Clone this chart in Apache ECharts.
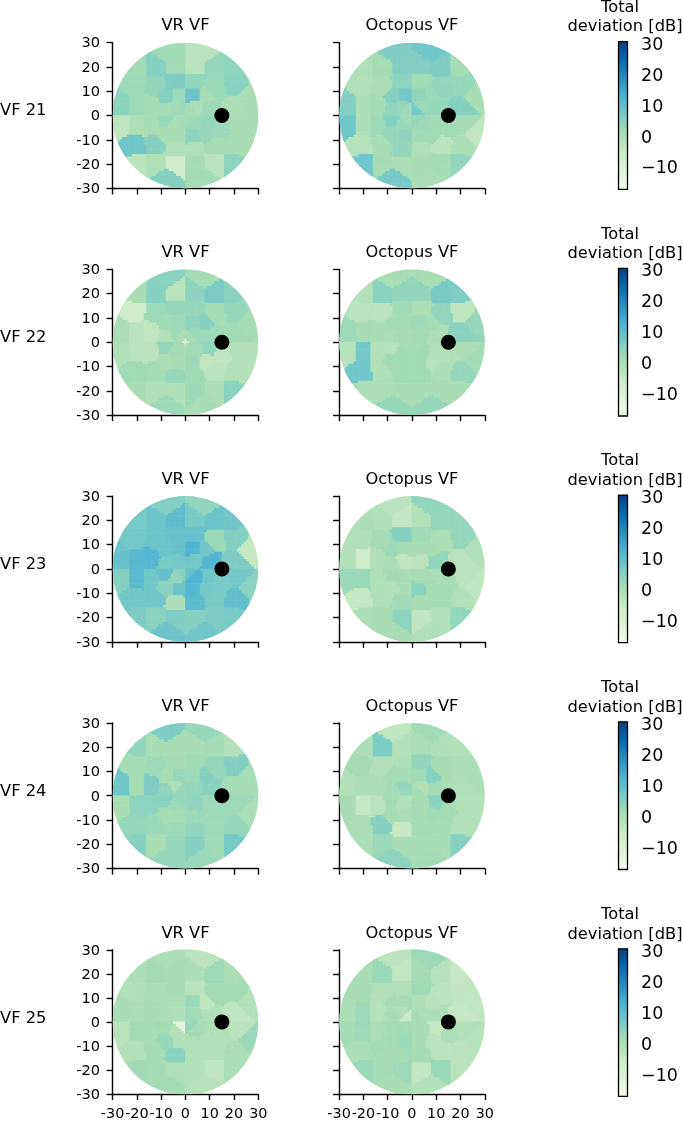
<!DOCTYPE html>
<html><head><meta charset="utf-8">
<style>html,body{margin:0;padding:0;background:#fff}#c{width:683px;height:1121px}</style>
<script src="https://cdn.jsdelivr.net/npm/echarts@6/dist/echarts.min.js"></script>
</head><body><div id="c"></div>
<script>
// Test locations of the visual-field pattern (degrees), listed row by row
const pointsX = [-8,8, -20,-12,-4,4,12,20, -21,-12,-4,4,12,21, -8,-3,3,8,26, -26,-20,-14,-4,4, -8,-1.5,1.5,10,21,
                 -8,-1.5,1.5,10,21, -26,-20,-14,-4,4,15, -8,-3,3,8,26, -21,-12,-4,4,12,21, -20,-12,-4,4,12,20, -8,8];
const pointsY = [26,26, 20,20,20,20,20,20, 12.5,12,14,14,12,12.5, 8,8,8,8,8, 4,4,4,4,4, 2,1.5,1.5,2.5,3,
                 -2,-1.5,-1.5,-2.5,-3, -4,-4,-4,-4,-4,-5, -8,-8,-8,-8,-8, -12.5,-12,-14,-14,-12,-12.5, -20,-20,-20,-20,-20,-20, -26,-26];

// Total deviation (dB) at each location, same order
const vr21 = [1.5,-2, 1.5,5,1.5,-2,3,4, 2,3.5,6,3.5,2.5,4.5, 5,2.5,8.5,1,0.5, 4,2,1,1.5,0, 1,2,1,2,0,
              2.5,1,1.5,3,0.5, -3,-0.5,0.5,0.5,2.5,2.5, 0.5,0.5,4,3,0.5, 8,5,-0.5,-0.5,1,0.5, -2,-0.5,-6.5,1,-2,4, 5,1];
const oct21 = [6,8, -0.5,1,5.5,5.5,6,1, -1,0,4,1.5,3.5,3, 5,7.5,3.5,2.5,0.5, 5.5,0,1,3,2.5, 3.5,1.5,7,3,5,
               5,1.5,3,1.5,1, 8,0,2,2.5,2,1.5, 3,4,1.5,1.5,-3, -1.5,0.5,3.5,-0.5,-2.5,0, 8,1,0,0.5,1,3.5, 7,0];
const vr22 = [4.5,1, 0.5,5,-2,4,6.5,4.5, -6,2,3,3,1,3, 1.5,2,4,5,0.5, 0,-2,-3,1.5,2.5, -1,0,1,2,1.5,
              3,1,1.5,3.5,-1, -1,-2,-2,1,1.5,-3, 0,0.5,2,-3,-1, 1.5,1,3,1.5,-2,-1, 0.5,-0.5,-0.5,2,0,4.5, 2,0.5];
const oct22 = [0.5,0.5, -1,4.5,3.5,3.5,7,6, -2,-2.5,1.5,0,3.5,-3, 1,1,2,1,3, 2,1,0.5,1,1, 0,0.5,1,0,4.5,
               -1.5,1,1,-1,0, -1.5,7.5,-1,1.5,1.5,-1, 1.5,1.5,1.5,-1.5,1, 8,-0.5,1.5,1.5,0,3, 0,0,0.5,0.5,0.5,0.5, 3,3];
const vr23 = [5.5,3.5, 7,8.5,10,7,8.5,8, 7.5,8.5,9,9,2.5,5.5, 8.5,9,12,8,-4, 9,11,11.5,7.5,7.5, 7,7.5,8,11.5,6,
              9.5,4.5,9,8,7.5, 5,10.5,8,3.5,12,7, 4.5,8.5,11.5,7.5,4.5, 8,8,0,10.5,7,9.5, 6,4.5,6,5,6,7, 8.5,8];
const oct23 = [-2.5,3.5, 0,-0.5,-3.5,-1,3,3, -0.5,1,5,1.5,0,3, 2,0.5,0.5,0.5,-0.5, -1,-6,-0.5,-3,-2.5, 0,-3,-2.5,3.5,-2,
               1,0,0.5,0,-2.5, 2.5,2.5,-0.5,1,0.5,1, -1,0.5,4.5,1,-3, -4,-0.5,1.5,0.5,1,-1, 0,0.5,4,-3,-1,3.5, 0.5,-0.5];
const vr24 = [6,3, 3.5,0.5,0.5,0.5,1,-1, 1,2,1,1.5,3,5.5, 1,3,2,5,1, 8,1,6,0,3, 3.5,3,3.5,4.5,1,
              4.5,3,3.5,2,2, 0.5,4,4,2,4,2, 1,1,2,2,0, 3,2.5,2,3.5,2,3, 5,0.5,3,5,1.5,7, 3,2.5];
const oct24 = [-3,1.5, 0,6.5,-1,0,-0.5,-1, 1,-1,-0.5,3.5,0.5,0, 1,1,1.5,5,0, -1,0,0,3.5,-1, 1,3,1,1,-0.5,
               1,-1,1,4.5,-1, 0.5,-4,-2,-1,1,1, 0.5,0,1,1.5,-1, 0,5,-4.5,1,1,-1, 0,2.5,0.5,0.5,0.5,5, 4,1];
const vr25 = [0,-2.5, 0,1,0.5,0,2,0, -0.5,0,0.5,-2,1,1, 0,0,2.5,-3,-1, 0.5,0,0.5,-0.5,1, 0,-0.5,2,-0.5,-3,
              1,-12,3,0,-2, -2,1,0.5,-1,1,-1, 3,-1,-0.5,-1,2.5, -1,1,4.5,-1,-1,0, 1.5,1,-0.5,-1,-3,0, 1,-1.5];
const oct25 = [-2.5,2, 0.5,2.5,-3.5,1,-1.5,-4, 0.5,-1,-1,1.5,-2,-3, 0.5,1,-0.5,-1.5,-3, 0,2,-1.5,-1,0, 0.5,-5,1,0,-4,
               1,1,0.5,-4,-1, 1,2,0,1.5,0.5,0, 1.5,2.5,0.5,-2,-1.5, 0,1,1,0.5,-2.5,-2, 2.5,1,2,-3.5,2.5,-2, 0.5,-1];

const rowNames = ['VF 21','VF 22','VF 23','VF 24','VF 25'];
const rowVR = [vr21,vr22,vr23,vr24,vr25];
const rowOctopus = [oct21,oct22,oct23,oct24,oct25];
const colorbarTicks = [-10,0,10,20,30];
const colorbarRange = [-17.4,30.3];
const colorRange = [-17,30];
const blindSpot = [[15,0]];
const whiteMark = [[0,0]];
const gnbu = ['#f7fcf0','#e0f3db','#ccebc5','#a8ddb5','#7bccc4','#4eb3d3','#2b8cbe','#0868ac','#084081'];

const rowTop = [42.7,269.4,496.1,722.9,949.8];
const plotW = 145.7, plotH = 145.7;
const colLeft = [112.6,339.1];
const FONT = 'DejaVu Sans';

function hex(c){return [1,3,5].map(i=>parseInt(c.substr(i,2),16));}
function colorOf(v){
  const t=Math.max(0,Math.min(1,(v-colorRange[0])/(colorRange[1]-colorRange[0])))*(gnbu.length-1);
  const i=Math.min(gnbu.length-2,Math.floor(t)),f=t-i,a=hex(gnbu[i]),b=hex(gnbu[i+1]);
  return 'rgb('+a.map((x,k)=>Math.round(x+(b[k]-x)*f)).join(',')+')';
}
// Each test location owns the 1-degree cells closest to it
const owned = pointsX.map(()=>[]);
for(let x=-30;x<30;x++)for(let y=-30;y<30;y++){
  const cx=x+.5,cy=y+.5; if(cx*cx+cy*cy>31*31)continue;
  let best=0,bd=1e9;
  pointsX.forEach((px,i)=>{const d=(px-cx)**2+(pointsY[i]-cy)**2;if(d<bd){bd=d;best=i;}});
  owned[best].push([x,y]);
}
function renderField(params,api){
  const cells=owned[params.dataIndex], fill=colorOf(api.value(2));
  const o=api.coord([0,0]), r=api.size([30,0])[0];
  const children=cells.map(c=>{
    const p=api.coord([c[0],c[1]+1]),q=api.coord([c[0]+1,c[1]]);
    return {type:'rect',shape:{x:p[0]-.3,y:p[1]-.3,width:q[0]-p[0]+.6,height:q[1]-p[1]+.6},style:{fill:fill},silent:true};
  });
  return {type:'group',children:children,clipPath:{type:'circle',shape:{cx:o[0],cy:o[1],r:r}}};
}
function renderBar(params,api){
  const p=api.coord([0,api.value(1)]),q=api.coord([1,api.value(0)]);
  return {type:'rect',shape:{x:p[0],y:p[1],width:q[0]-p[0],height:q[1]-p[1]},
    style:{fill:new echarts.graphic.LinearGradient(0,0,0,1,gnbu.slice().reverse().map((c,i)=>({offset:i/(gnbu.length-1),color:c}))),stroke:'#000',lineWidth:1.3}};
}
const grid=[],xAxis=[],yAxis=[],series=[],title=[];
const axisStyle={lineStyle:{color:'#000',width:1.4}};
const textStyle={fontFamily:FONT,fontSize:16.3,fontWeight:'normal',color:'#000'};
rowTop.forEach((top,r)=>{
  [rowVR[r],rowOctopus[r]].forEach((vals,c)=>{
    const g=grid.length;
    grid.push({left:colLeft[c],top:top,width:plotW,height:plotH,containLabel:false});
    xAxis.push({gridIndex:g,type:'value',min:-30,max:30,interval:10,splitLine:{show:false},
      axisLine:{onZero:false,...axisStyle},axisTick:{length:6,lineStyle:axisStyle.lineStyle},
      axisLabel:{show:r===4,color:'#000',fontFamily:FONT,fontSize:14.4,margin:13,hideOverlap:false}});
    yAxis.push({gridIndex:g,type:'value',min:-30,max:30,interval:10,splitLine:{show:false},
      axisLine:{onZero:false,...axisStyle},axisTick:{length:6,lineStyle:axisStyle.lineStyle},
      axisLabel:{show:c===0,color:'#000',fontFamily:FONT,fontSize:14.6,margin:12.5,
        formatter:v=>'{t|'+v+'}',rich:{t:{padding:[2,0,0,0],fontFamily:FONT,fontSize:14.6,color:'#000'}}}});
    series.push({type:'custom',xAxisIndex:g,yAxisIndex:g,renderItem:renderField,silent:true,
      encode:{x:0,y:1},data:vals.map((v,i)=>[pointsX[i],pointsY[i],v]),z:2});
    series.push({type:'scatter',xAxisIndex:g,yAxisIndex:g,data:blindSpot,symbol:'circle',symbolSize:15,
      itemStyle:{color:'#000',opacity:1},silent:true,z:4});
    if(r===1&&c===0)series.push({type:'scatter',xAxisIndex:g,yAxisIndex:g,data:whiteMark,
      symbol:'path://M3 0H4V3H7V4H4V7H3V4H0V3H3Z',symbolSize:7,itemStyle:{color:'#fff',opacity:1},silent:true,z:3});
    title.push({text:c===0?'VR VF':'Octopus VF',left:colLeft[c]+plotW/2,top:top-16.5,textAlign:'center',textVerticalAlign:'middle',
      textStyle,padding:0});
  });
  // colour bar
  const g=grid.length;
  grid.push({left:618.5,top:top-1,width:9,height:147.6,containLabel:false});
  xAxis.push({gridIndex:g,type:'value',min:0,max:1,show:false});
  yAxis.push({gridIndex:g,type:'value',min:colorbarRange[0],max:colorbarRange[1],position:'right',splitLine:{show:false},
    axisLine:{show:false},
    axisTick:{show:true,length:5,lineStyle:{color:'#000',width:1.3},customValues:colorbarTicks},
    axisLabel:{color:'#000',fontFamily:FONT,fontSize:17.5,margin:13.5,customValues:colorbarTicks,
      formatter:v=>'{t|'+String(v).replace('-','\u2212')+'}',
      rich:{t:{padding:[5,0,0,0],fontFamily:FONT,fontSize:17.5,color:'#000'}}}});
  series.push({type:'custom',xAxisIndex:g,yAxisIndex:g,renderItem:renderBar,silent:true,clip:false,
    encode:{y:[0,1]},data:[colorbarRange],z:2});
  title.push({text:'Total',left:620,top:top-35,textAlign:'center',textVerticalAlign:'middle',textStyle,padding:0});
  title.push({text:'deviation [dB]',left:625,top:top-15.5,textAlign:'center',textVerticalAlign:'middle',textStyle,padding:0});
  title.push({text:rowNames[r],left:0,top:top+68.5,textAlign:'left',textVerticalAlign:'middle',textStyle,padding:0});
});
const chart=echarts.init(document.getElementById('c'),null,{renderer:'canvas'});
chart.setOption({animation:false,backgroundColor:'#fff',title,grid,xAxis,yAxis,series});
</script></body></html>
